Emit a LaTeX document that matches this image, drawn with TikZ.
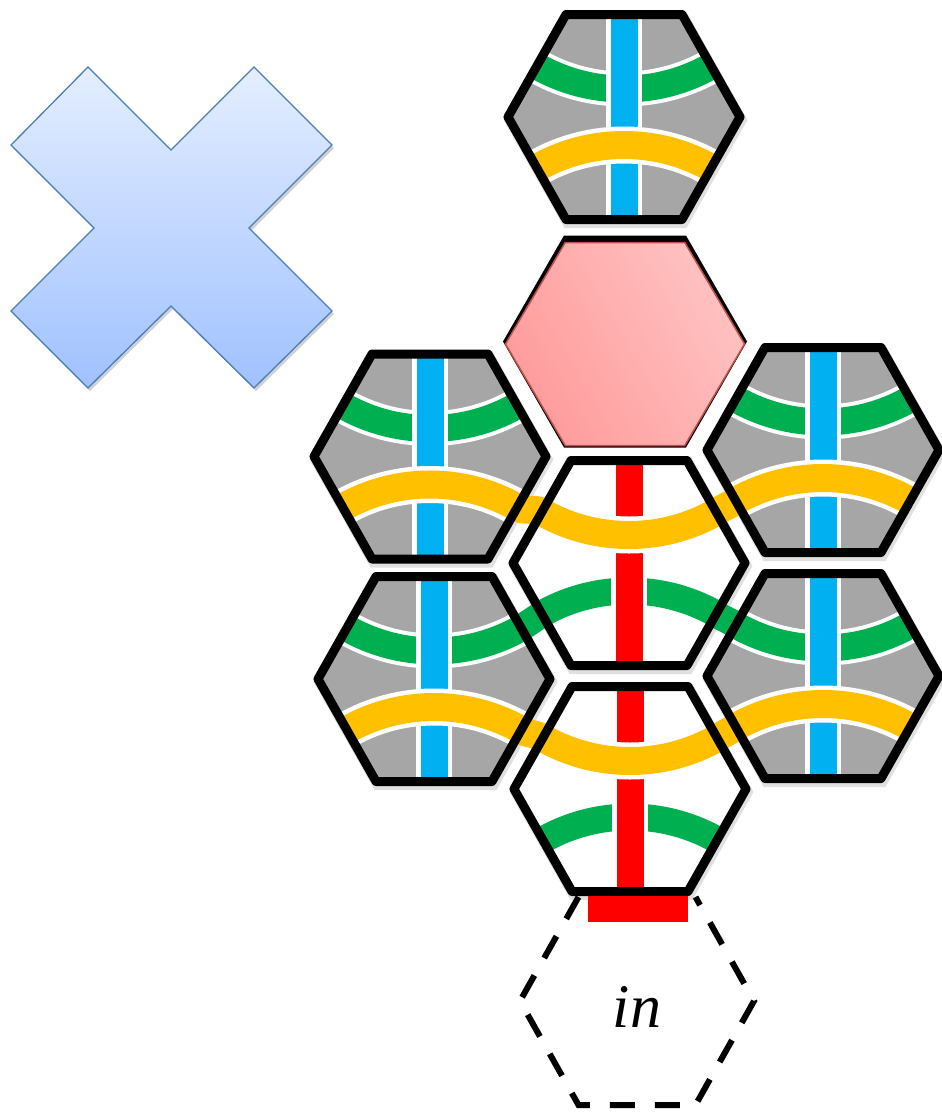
\documentclass[tikz,border=0pt]{standalone}
\usepackage{fontspec}
\setmainfont{Liberation Serif}
\definecolor{tgray}{RGB}{166,166,166}
\definecolor{tblue}{RGB}{0,176,240}
\definecolor{tgreen}{RGB}{0,176,80}
\definecolor{tyellow}{RGB}{255,192,0}
\definecolor{tred}{RGB}{255,0,0}
\definecolor{crossA}{RGB}{228,238,255}
\definecolor{crossB}{RGB}{160,193,255}
\definecolor{crossE}{RGB}{74,126,187}
\definecolor{pinkA}{RGB}{255,155,155}
\definecolor{pinkB}{RGB}{255,194,194}
\definecolor{pinkE}{RGB}{192,80,77}
\newcommand\hexp[4]{(#1+#3,#2) -- (#1+#3/2,#2+#4) -- (#1-#3/2,#2+#4) -- (#1-#3,#2) -- (#1-#3/2,#2-#4) -- (#1+#3/2,#2-#4) -- cycle}
\newcommand\tilebody[5]{%
\begin{scope}[shift={(#1,#2)},rotate=#5]
\begin{scope}
\clip \hexp{0}{0}{116}{102.5};
\fill[#3] \hexp{0}{0}{116}{102.5};
\draw[white,line width=35pt] (0,-205) circle[radius=177pt];
\draw[tgreen,line width=27pt] (0,-205) circle[radius=177pt];
\fill[white] (-18,-120) rectangle (18,120);
\fill[#4] (-13.5,-120) rectangle (13.5,120);
\draw[white,line width=37pt] (0,205) circle[radius=177pt];
\draw[tyellow,line width=28pt] (0,205) circle[radius=177pt];
\end{scope}
\end{scope}}
\newcommand\tileshadow[2]{\fill[black,opacity=0.12] \hexp{#1+1.5}{#2+3}{122}{108};}
\newcommand\tileborder[2]{\draw[tileline] \hexp{#1}{#2}{116}{102.5};}
\newcommand\bridge[8]{\draw[#1,line width=#8pt,line join=round] ({#2-12*(#6)},{#3-12*(#7)}) -- (#2,#3) .. controls ({#2+8*(#6)},{#3+8*(#7)}) and ({#4-8*(#6)},{#5-8*(#7)}) .. (#4,#5) -- ({#4+12*(#6)},{#5+12*(#7)});}
\tikzset{tileline/.style={line width=9pt,line join=round,black}}
\begin{document}
\begin{tikzpicture}[x=1pt,y=-1pt]
\useasboundingbox (0,0) rectangle (942,1112);
% cross
\fill[black,opacity=0.18] (90,70) -- (173,153) -- (256,70) -- (334,148) -- (251,231) -- (334,314) -- (256,391) -- (173,309) -- (90,391) -- (13,314) -- (96,231) -- (13,148) -- cycle;
\draw[crossE,line width=1.3pt,line join=miter,top color=crossA,bottom color=crossB]
  (88,67) -- (171,150) -- (254,67) -- (332,145) -- (249,228) -- (332,311) -- (254,388) -- (171,306) -- (88,388) -- (11,311) -- (94,228) -- (11,145) -- cycle;
% shadows
\tileshadow{624}{117}
\tileshadow{430}{456.5}
\tileshadow{823}{450}
\tileshadow{434}{679}
\tileshadow{823}{676}
\tileshadow{629}{563}
\tileshadow{630}{789}
% dashed input hexagon
\draw[line width=6pt,dash pattern=on 25pt off 20pt] (578.5,897) -- (520,1001) -- (578.5,1105) -- (695.5,1105) -- (754,1001) -- (695.5,897);
% pink hexagon
\fill[black] \hexp{625}{341.5}{122}{106};
\draw[pinkE,line width=1.5pt,left color=pinkA,right color=pinkB,shading angle=120] \hexp{625}{344}{119.5}{101.5};
% tiles
\tilebody{624}{117}{tgray}{tblue}{0}
\tilebody{430}{456.5}{tgray}{tblue}{0}
\tilebody{823}{450}{tgray}{tblue}{0}
\tilebody{434}{679}{tgray}{tblue}{0}
\tilebody{823}{676}{tgray}{tblue}{0}
\tilebody{629}{563}{white}{tred}{180}
\tilebody{630}{789}{white}{tred}{180}
% bridges across gaps
\begin{scope}[even odd rule]
\clip (0,0) rectangle (942,1112)
  \hexp{624}{117}{116}{102.5} \hexp{430}{456.5}{116}{102.5} \hexp{823}{450}{116}{102.5}
  \hexp{434}{679}{116}{102.5} \hexp{823}{676}{116}{102.5} \hexp{629}{563}{116}{102.5}
  \hexp{630}{789}{116}{102.5};
\bridge{tyellow}{517}{507.75}{542}{511.75}{0.87}{0.49}{28}
\bridge{tyellow}{736}{501.25}{716}{511.75}{-0.87}{0.49}{28}
\bridge{tgreen}{521}{627.75}{542}{614.25}{0.87}{-0.49}{27}
\bridge{tgreen}{736}{624.75}{716}{614.25}{-0.87}{-0.49}{27}
\bridge{tyellow}{521}{730.25}{543}{737.75}{0.87}{0.49}{28}
\bridge{tyellow}{736}{727.25}{717}{737.75}{-0.87}{0.49}{28}
\end{scope}
% borders
\tileborder{624}{117}
\tileborder{430}{456.5}
\tileborder{823}{450}
\tileborder{434}{679}
\tileborder{823}{676}
\tileborder{629}{563}
\tileborder{630}{789}
% red input bar
\fill[tred] (588,896) rectangle (688,922);
% label
\node[anchor=base,inner sep=0pt,font=\fontsize{62}{62}\selectfont\itshape] (lbl) at (637,1027) {in};
\end{tikzpicture}
\end{document}
